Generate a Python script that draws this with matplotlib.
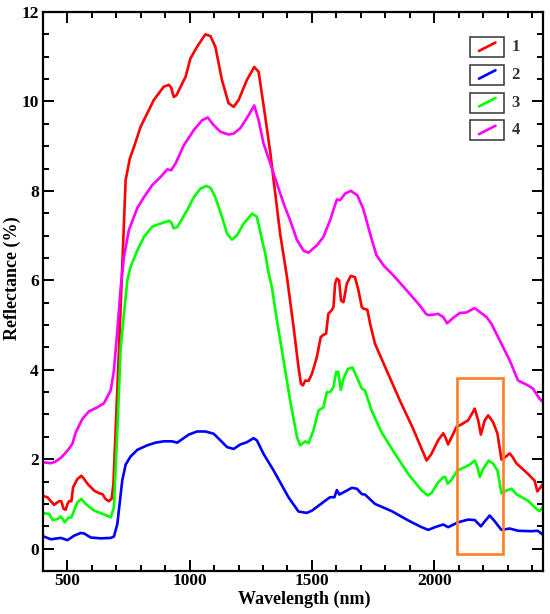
import matplotlib
matplotlib.use("Agg")
import matplotlib.pyplot as plt
from matplotlib.patches import Rectangle
from matplotlib.ticker import MultipleLocator

# ---------------- data ----------------
wl_1 = [404, 418, 445, 466, 475, 484, 493, 500, 507, 516, 523, 541, 557, 568, 582, 609, 629, 643, 656, 670,
        681, 688, 697, 711, 724, 738, 755, 772, 799, 826, 853, 894, 915, 924, 935, 946, 983, 1003, 1030, 1064,
        1085, 1105, 1132, 1159, 1180, 1200, 1234, 1264, 1282, 1289, 1309, 1330, 1350, 1370, 1398, 1425, 1445,
        1455, 1463, 1473, 1486, 1500, 1520, 1536, 1547, 1558, 1567, 1581, 1588, 1595, 1602, 1611, 1619, 1629,
        1643, 1659, 1676, 1690, 1704, 1710, 1727, 1738, 1758, 1806, 1860, 1914, 1969, 1989, 2016, 2037, 2046,
        2057, 2071, 2091, 2112, 2139, 2166, 2180, 2191, 2207, 2221, 2241, 2259, 2275, 2289, 2309, 2322, 2336,
        2384, 2411, 2422, 2435, 2445]
refl_1 = [1.17, 1.15, 0.98, 1.06, 1.06, 0.89, 0.87, 1.00, 1.06, 1.06, 1.37, 1.56, 1.63, 1.56, 1.45, 1.30, 1.24,
          1.22, 1.11, 1.06, 1.12, 1.45, 2.64, 4.50, 6.30, 8.24, 8.72, 8.98, 9.43, 9.73, 10.03, 10.33, 10.37, 10.31,
          10.10, 10.14, 10.55, 10.96, 11.22, 11.50, 11.46, 11.22, 10.48, 9.96, 9.88, 10.03, 10.48, 10.77, 10.66,
          10.40, 9.66, 8.84, 7.94, 7.04, 6.07, 4.95, 4.06, 3.69, 3.65, 3.76, 3.75, 3.91, 4.28, 4.73, 4.78, 4.81,
          5.25, 5.33, 5.40, 5.93, 6.04, 6.00, 5.55, 5.51, 5.93, 6.10, 6.07, 5.78, 5.40, 5.37, 5.34, 5.03, 4.58,
          3.98, 3.31, 2.68, 1.97, 2.12, 2.42, 2.58, 2.49, 2.33, 2.49, 2.72, 2.78, 2.87, 3.13, 2.87, 2.55, 2.87,
          2.98, 2.83, 2.57, 1.99, 2.04, 2.13, 2.04, 1.91, 1.67, 1.52, 1.28, 1.37, 1.45]

wl_2 = [404, 432, 473, 500, 527, 554, 568, 595, 636, 677, 690, 704, 724, 738, 758, 786, 826, 860, 894, 928, 949,
        962, 996, 1030, 1064, 1098, 1126, 1153, 1180, 1207, 1234, 1261, 1275, 1302, 1343, 1404, 1445, 1479, 1500,
        1554, 1574, 1592, 1602, 1612, 1636, 1663, 1684, 1704, 1717, 1758, 1826, 1894, 1949, 1976, 2003, 2037,
        2057, 2098, 2139, 2166, 2191, 2210, 2227, 2245, 2275, 2309, 2343, 2397, 2424, 2445]
refl_2 = [0.27, 0.21, 0.24, 0.19, 0.29, 0.35, 0.34, 0.25, 0.23, 0.24, 0.27, 0.55, 1.52, 1.88, 2.06, 2.21, 2.31,
          2.37, 2.40, 2.40, 2.37, 2.42, 2.55, 2.62, 2.62, 2.57, 2.42, 2.27, 2.23, 2.33, 2.38, 2.47, 2.42, 2.12,
          1.75, 1.15, 0.83, 0.80, 0.85, 1.07, 1.15, 1.15, 1.31, 1.21, 1.28, 1.36, 1.34, 1.22, 1.21, 1.00, 0.84,
          0.63, 0.48, 0.42, 0.48, 0.54, 0.48, 0.59, 0.65, 0.64, 0.50, 0.63, 0.74, 0.63, 0.42, 0.45, 0.40, 0.39,
          0.40, 0.31]

wl_3 = [404, 425, 439, 459, 473, 489, 503, 516, 541, 557, 575, 609, 643, 677, 690, 704, 718, 731, 745, 758, 786,
        813, 847, 881, 915, 924, 935, 949, 990, 1017, 1044, 1068, 1085, 1105, 1132, 1153, 1173, 1194, 1221,
        1255, 1275, 1296, 1309, 1323, 1336, 1357, 1384, 1411, 1439, 1452, 1473, 1486, 1506, 1527, 1547, 1561,
        1574, 1588, 1599, 1608, 1618, 1629, 1647, 1666, 1684, 1704, 1717, 1744, 1785, 1840, 1894, 1949, 1973,
        1989, 2016, 2037, 2046, 2055, 2071, 2095, 2125, 2146, 2166, 2177, 2187, 2200, 2223, 2241, 2259, 2275,
        2296, 2316, 2336, 2384, 2418, 2431, 2445]
refl_3 = [0.79, 0.78, 0.64, 0.66, 0.72, 0.59, 0.69, 0.70, 1.04, 1.11, 1.00, 0.85, 0.78, 0.70, 0.92, 2.64, 4.51,
          5.25, 6.00, 6.30, 6.67, 6.97, 7.20, 7.27, 7.33, 7.30, 7.16, 7.19, 7.57, 7.86, 8.05, 8.11, 8.07, 7.86,
          7.42, 7.04, 6.91, 7.01, 7.27, 7.49, 7.42, 6.90, 6.60, 6.15, 5.85, 5.10, 4.21, 3.31, 2.49, 2.31, 2.40,
          2.36, 2.64, 3.09, 3.16, 3.50, 3.50, 3.61, 3.95, 3.95, 3.55, 3.80, 4.02, 4.05, 3.83, 3.58, 3.54, 3.09,
          2.60, 2.12, 1.67, 1.30, 1.19, 1.24, 1.48, 1.60, 1.60, 1.45, 1.54, 1.75, 1.82, 1.88, 1.97, 1.82, 1.60,
          1.78, 1.97, 1.90, 1.75, 1.24, 1.30, 1.34, 1.22, 1.07, 0.89, 0.84, 0.93]

wl_4 = [404, 432, 452, 473, 500, 520, 534, 561, 588, 622, 649, 677, 690, 704, 718, 731, 751, 772, 786, 813, 847,
        881, 908, 924, 942, 976, 1017, 1051, 1074, 1098, 1126, 1159, 1180, 1207, 1241, 1264, 1282, 1302, 1330,
        1357, 1384, 1411, 1439, 1466, 1486, 1520, 1547, 1574, 1602, 1615, 1636, 1659, 1686, 1710, 1738, 1764,
        1792, 1833, 1887, 1941, 1968, 1982, 2016, 2037, 2053, 2078, 2105, 2132, 2166, 2187, 2214, 2234, 2268,
        2309, 2343, 2377, 2404, 2431, 2445]
refl_4 = [1.93, 1.91, 1.95, 2.03, 2.19, 2.34, 2.60, 2.90, 3.07, 3.16, 3.25, 3.54, 3.98, 4.88, 5.85, 6.52, 7.12,
          7.42, 7.62, 7.86, 8.13, 8.31, 8.48, 8.46, 8.61, 9.02, 9.36, 9.58, 9.64, 9.47, 9.32, 9.26, 9.28, 9.40,
          9.69, 9.91, 9.58, 9.06, 8.61, 8.16, 7.72, 7.34, 6.90, 6.66, 6.62, 6.78, 6.97, 7.34, 7.81, 7.79, 7.94,
          8.00, 7.90, 7.60, 7.04, 6.56, 6.34, 6.11, 5.78, 5.44, 5.24, 5.22, 5.25, 5.18, 5.04, 5.16, 5.27, 5.28,
          5.38, 5.29, 5.18, 5.03, 4.66, 4.21, 3.76, 3.67, 3.58, 3.35, 3.28]

series_labels = ["1", "2", "3", "4"]
series_colors = ["#FF0000", "#0000FF", "#00FF00", "#FF00FF"]

highlight_x = [2095, 2282]
highlight_y = [-0.13, 3.81]

x_ticks = [500, 1000, 1500, 2000]
y_ticks = [0, 2, 4, 6, 8, 10, 12]

# ---------------- figure ----------------
plt.rcParams['font.family'] = ['Liberation Serif', 'DejaVu Serif']
fig = plt.figure(figsize=(5.5, 6.14), dpi=100)
ax = fig.add_axes([0.0782, 0.070, 0.909, 0.9105])

all_wl = [wl_1, wl_2, wl_3, wl_4]
all_refl = [refl_1, refl_2, refl_3, refl_4]
for wl, rf, c in zip(all_wl, all_refl, series_colors):
    ax.plot(wl, rf, color=c, lw=1.9, solid_joinstyle='round', solid_capstyle='round')

ax.add_patch(Rectangle((highlight_x[0], highlight_y[0]), highlight_x[1] - highlight_x[0],
                       highlight_y[1] - highlight_y[0], fill=False, edgecolor='#FF7F27', lw=1.9, zorder=5))

ax.set_xlim(400, 2445)
ax.set_ylim(-0.5, 12)
ax.set_xticks(x_ticks)
ax.set_yticks(y_ticks)
ax.xaxis.set_minor_locator(MultipleLocator(100))
ax.yaxis.set_minor_locator(MultipleLocator(0.5))
ax.tick_params(which='both', direction='in', top=True, right=True, width=1.4,
               labelsize=12.5, pad=3)
ax.tick_params(axis='x', which='both', pad=1.5)
ax.tick_params(which='major', length=8)
ax.tick_params(which='minor', length=4.5)
for lab in ax.get_xticklabels() + ax.get_yticklabels():
    lab.set_fontweight('bold')
for sp in ax.spines.values():
    sp.set_linewidth(1.6)

ax.set_xlabel('Wavelength (nm)', fontsize=13, fontweight='bold')
ax.set_ylabel('Reflectance (%)', fontsize=13, fontweight='bold')
ax.xaxis.set_label_coords(0.522, -0.036)
ax.yaxis.set_label_coords(-0.044, 0.524)

# custom legend (boxes with a short diagonal line)
bx0, bw = 0.854, 0.068
by_top, bh, step = 0.955, 0.0358, 0.0496
for i, (lab, c) in enumerate(zip(series_labels, series_colors)):
    y1 = by_top - i * step
    y0 = y1 - bh
    ax.add_patch(Rectangle((bx0, y0), bw, bh, transform=ax.transAxes, fill=False,
                           edgecolor='#333333', lw=1.1, zorder=6))
    ax.plot([bx0 + 0.018, bx0 + 0.051], [y0 + 0.31 * bh, y0 + 0.73 * bh], transform=ax.transAxes,
            color=c, lw=1.9, solid_capstyle='round', zorder=7)
    ax.text(bx0 + bw + 0.015, y0 + bh / 2, lab, transform=ax.transAxes, ha='left', va='center',
            fontsize=12, fontweight='bold', color='#333333')

fig.savefig('out.png', dpi=100)
